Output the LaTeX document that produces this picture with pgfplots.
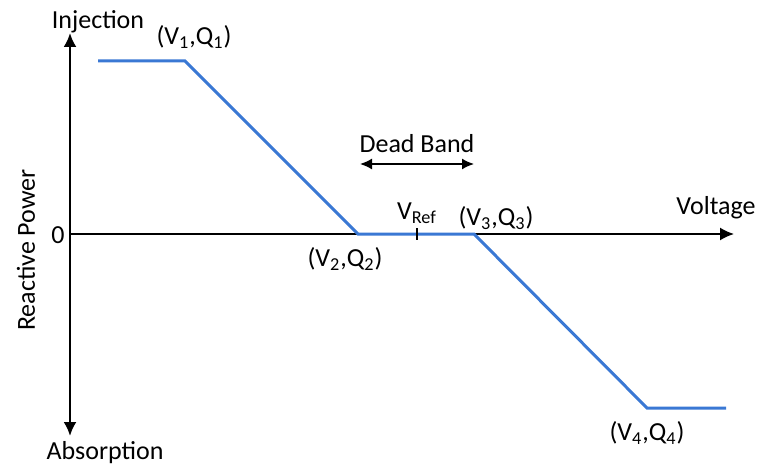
\documentclass[border=0pt]{standalone}
\usepackage{pgfplots}
\pgfplotsset{compat=1.18}
\usepackage{fontspec}
\setmainfont{Carlito}
\usetikzlibrary{arrows.meta}
\definecolor{curveblue}{RGB}{58,120,212}
\tikzset{lbl/.style={font=\fontsize{13}{15}\selectfont, inner sep=0pt}}
\begin{document}
\begin{tikzpicture}
\begin{axis}[
  width=380.5pt, height=232.5pt, scale only axis,
  xmin=0, xmax=761, ymin=0, ymax=465, y dir=reverse,
  hide axis, clip=false]
  \path (axis cs:0,0) -- (axis cs:761,465);
  % axes
  \draw[line width=1.2pt, {Latex[length=7pt,width=6.5pt]}-{Latex[length=7pt,width=6.5pt]}]
    (axis cs:70,33) -- (axis cs:70,436);
  \draw[line width=0.8pt, -{Latex[length=7pt,width=6.5pt]}]
    (axis cs:70,234) -- (axis cs:734,234);
  % volt-var curve
  \addplot[curveblue, line width=1.5pt, line join=miter] coordinates {
    (98,61) (185,61) (358,234) (474,234) (647,408) (726,408)};
  % V_ref tick
  \draw[line width=1pt] (axis cs:417,228) -- (axis cs:417,240);
  % dead band
  \draw[line width=0.8pt, {Latex[length=6pt,width=5.5pt]}-{Latex[length=6pt,width=5.5pt]}]
    (axis cs:360,164) -- (axis cs:474,164);
  \node[lbl] at (axis cs:417,144) {Dead Band};
  % labels
  \node[lbl] at (axis cs:98,22) {Injection};
  \node[lbl] at (axis cs:105,453) {Absorption};
  \node[lbl,rotate=90] at (axis cs:26,250) {Reactive Power};
  \node[lbl] at (axis cs:58,235) {0};
  \node[lbl] at (axis cs:716,208) {Voltage};
  \node[lbl] at (axis cs:194,37) {(V\textsubscript{1},Q\textsubscript{1})};
  \node[lbl] at (axis cs:345,259) {(V\textsubscript{2},Q\textsubscript{2})};
  \node[lbl] at (axis cs:417,213) {V\textsubscript{Ref}};
  \node[lbl] at (axis cs:496,218) {(V\textsubscript{3},Q\textsubscript{3})};
  \node[lbl] at (axis cs:647,433) {(V\textsubscript{4},Q\textsubscript{4})};
\end{axis}
\end{tikzpicture}
\end{document}
